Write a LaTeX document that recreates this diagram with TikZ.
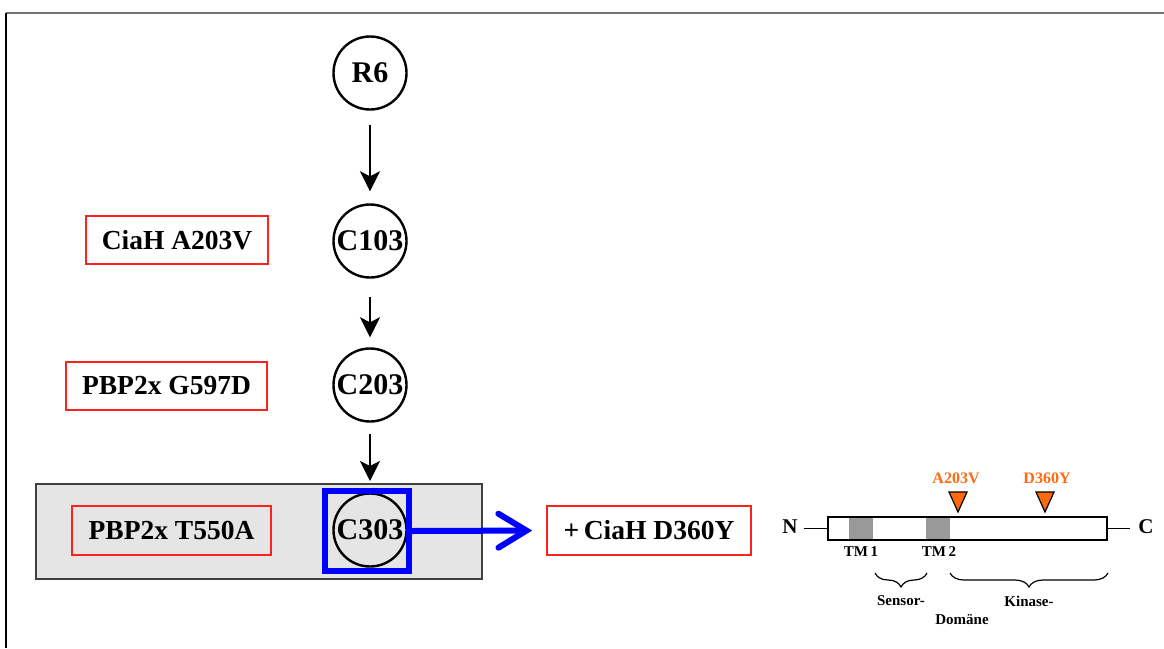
\documentclass[tikz,border=0pt]{standalone}
\usepackage{fontspec}
\setmainfont{Liberation Serif}
\usetikzlibrary{arrows.meta,decorations.pathreplacing}
\definecolor{mred}{HTML}{FF2020}
\definecolor{morange}{HTML}{FF6A10}
\definecolor{gbox}{HTML}{E5E5E5}
\tikzset{
  strain/.style={draw=black,line width=2.4pt,circle,minimum size=73pt,inner sep=0pt,font=\fontsize{30}{32}\selectfont\bfseries},
  mut/.style={draw=mred,line width=1.6pt,rectangle,inner sep=0pt,font=\fontsize{27.5}{30}\selectfont\bfseries},
  flow/.style={line width=2.4pt,-{Stealth[length=20pt,width=20pt,inset=5pt]}},
  small/.style={font=\fontsize{15}{17}\selectfont\bfseries,inner sep=0pt},
  mutlab/.style={font=\fontsize{16}{18}\selectfont\bfseries,text=morange,inner sep=0pt},
  tri/.style={fill=morange,draw=black,line width=1.2pt,line join=miter},
  brc/.style={decorate,decoration={brace,amplitude=14pt},line width=1.2pt}
}
\begin{document}
\begin{tikzpicture}[x=1pt,y=-1pt]
\useasboundingbox (0,0) rectangle (1164,648);
% frame
\draw[draw=gray!90!black,line width=2pt] (6,13) -- (1164,13);
\draw[black,line width=2pt] (6,13) -- (6,648);
% gray box
\node[draw=black!75,line width=2pt,fill=gbox,minimum width=446pt,minimum height=95pt,inner sep=0pt] (gb) at (259,531.5) {};
% strains
\node[strain] (r6) at (370,73) {R6};
\node[strain] (c103) at (370,241) {C103};
\node[strain] (c203) at (370,385) {C203};
\node[strain] (c303) at (370,530) {C303};
% selection square
\node[draw=blue,line width=6pt,minimum width=84pt,minimum height=80pt,inner sep=0pt] (sel) at (367,531) {};
% mutation boxes
\node[mut,minimum width=182pt,minimum height=48pt] (m1) at (177,240) {CiaH A203V};
\node[mut,minimum width=201pt,minimum height=48pt] (m2) at (166.5,386) {PBP2x G597D};
\node[mut,minimum width=199pt,minimum height=49pt] (m3) at (171.5,530.5) {PBP2x T550A};
\node[mut,minimum width=204pt,minimum height=49pt] (m4) at (649,530.5) {+\,CiaH D360Y};
% flow arrows
\draw[flow,shorten <=14pt,shorten >=12pt] (r6.south) -- (c103.north);
\draw[flow,shorten <=18pt,shorten >=10pt] (c103.south) -- (c203.north);
\draw[flow,shorten <=11pt,shorten >=7pt] (c203.south) -- (c303.north |- sel.north);
\draw[blue,line width=6pt,line cap=round,-{Straight Barb[length=28pt,width=34pt,line cap=round]},shorten >=14pt] (sel.east) -- (m4.west);
% protein
\fill[gray!80] (849,518) rectangle (873,539);
\fill[gray!80] (926,518) rectangle (950,539);
\node[draw=black,line width=1.2pt,minimum width=279pt,minimum height=23pt,inner sep=0pt] (bar) at (967.5,528.5) {};
\node[font=\fontsize{21}{24}\selectfont\bfseries,inner sep=0pt] (nterm) at (790,527) {N};
\node[font=\fontsize{21}{24}\selectfont\bfseries,inner sep=0pt] (cterm) at (1146,527) {C};
\draw[line width=1.2pt] (804,528.5) -- (bar.west);
\draw[line width=1.2pt] (bar.east) -- (1130,528.5);
\node[small] (tm1) at (861,552) {TM\,1};
\node[small] (tm2) at (939,552) {TM\,2};
\draw[tri] (949,492) -- (967,492) -- (958,512) -- cycle;
\draw[tri] (1036,492) -- (1054,492) -- (1045,512) -- cycle;
\node[mutlab] (la) at (956,478) {A203V};
\node[mutlab] (lb) at (1047,478) {D360Y};
\draw[brc] (927,573) -- (875,573);
\draw[brc] (1108,573) -- (950,573);
\node[small] (sens) at (901,601) {Sensor-};
\node[small] (kin) at (1029,601) {Kinase-};
\node[small] (dom) at (962,620) {Domäne};
\end{tikzpicture}
\end{document}
